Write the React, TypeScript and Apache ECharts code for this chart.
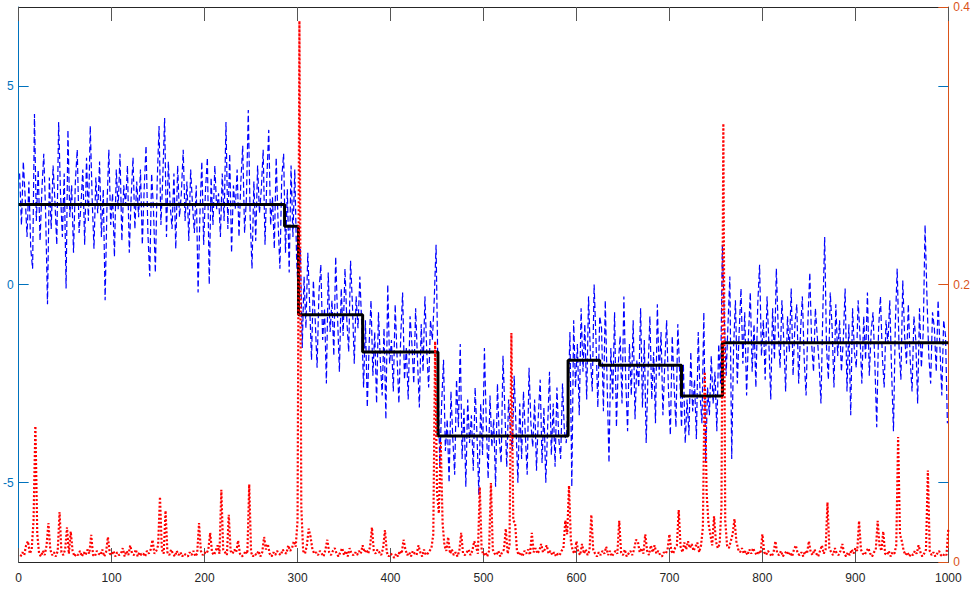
import React, { useEffect, useRef } from "react";
import * as echarts from "echarts";

// ---------- data ----------
// blue noisy signal, sampled at x = 1, 3, 5, ... , 999 (split by regime)
const blueA = [
  2.8, 1.5, 3.1, 2.2, 1.2, 2.6, 0.9, 0.4, 4.3, 1.6,
  2.9, 1.1, 2.4, 3.3, 1.8, -0.5, 2.7, 1.4, 3.0, 2.1,
  1.0, 4.1, 2.3, 1.2, 2.8, -0.1, 3.9, 1.7, 2.5, 0.8,
  2.6, 3.4, 1.3, 2.0, 2.9, 1.0, 3.2, 1.6, 4.0, 2.2,
  0.9, 2.7, 1.8, 3.1, 1.2, 2.4, -0.4, 2.0, 3.4, 1.5,
  2.3, 0.7, 2.9, 1.9, 3.3, 1.1, 2.5, 2.0, 3.0, 0.8,
  2.2, 3.2, 1.4, 2.6, 1.7, 2.9, 1.0, 2.4, 3.5, 1.3,
  0.2, 2.8, 1.9, 0.3, 2.6, 4.0, 1.5, 2.7, 4.2, 1.2,
  3.1, 2.0, 1.4, 2.8, 0.9, 3.0, 1.7, 2.3, 3.4, 1.6,
  2.6, 1.1, 2.9, 2.0, 1.3, 2.5, -0.2, 1.8, 3.1, 1.0,
  2.4, 3.2, 0.0, 2.7, 1.5, 3.0, 1.9, 2.3, 1.2, 2.8,
  1.6, 4.1, 1.4, 3.3, 0.8, 2.5, 1.9, 2.9, 1.2, 2.6,
  3.5, 1.3, 2.2, 4.4, 1.7, 0.4, 2.6, 1.1, 3.0, 1.8,
  2.4, 3.4, 1.0, 2.7, 3.9, 1.5, 2.2, 0.9, 3.2, 1.6,
  0.4, 2.7,
];
const blueB = [3.3, 0.8, 2.4, 0.3, 3.0, 1.2, 2.9, 0.6];
const blueC = [
  -0.3, 0.9, -1.6, 0.2, -1.1, 0.8, -0.5, -1.9, 0.1, -0.9,
  -2.1, -0.2, 0.5, -1.4, -0.6, -2.5, 0.3, -1.2, -0.4, -1.8,
  0.7, -0.8, -2.2, -0.1, -1.3, 0.4, -0.9, -1.7, 0.6, -0.5,
  -2.0, -0.3, -1.1, 0.2,
];
const blueD = [
  -1.0, -2.6, -0.9, -3.1, -1.5, -0.4, -2.3, -1.2, -3.0, -0.7,
  -1.9, -2.8, -1.1, -3.4, 0.0, -2.0, -1.4, -2.7, -0.5, -1.8,
  -3.0, -1.3, -0.2, -2.4, -1.6, -2.9, -0.8, -1.5, -2.5, -0.6,
  -1.9, -3.1, -1.0, -2.2, -0.3, -1.7, -2.6, -0.9, -1.4, -0.4,
  1.0,
];
const blueE = [
  -2.2, -4.6, -3.0, -1.9, -4.2, -3.4, -5.0, -2.7, -3.9, -4.8,
  -2.4, -3.6, -1.5, -4.4, -3.1, -5.1, -2.9, -4.0, -3.3, -4.7,
  -2.6, -3.8, -5.3, -3.0, -4.3, -1.6, -3.5, -4.9, -2.8, -4.1,
  -3.4, -5.1, -2.5, -3.9, -4.5, -1.8, -3.2, -4.6, -2.9, -3.7,
  -4.2, -2.3, -3.6, -5.0, -3.0, -4.4, -2.7, -3.8, -4.8, -2.1,
  -3.5, -4.1, -2.9, -4.7, -3.3, -2.4, -4.5, -3.1, -5.0, -3.6,
  -2.2, -4.3, -3.0, -4.6, -2.6, -3.9, -4.4, -2.5, -3.7, -4.0,
];
const blueF = [
  -3.0, -1.2, -5.1, -0.9, -2.6, -1.5, -3.3, -0.6, -2.2, -1.0,
  -2.9, -0.3, -1.8, -2.7, 0.0, -1.4, -3.1, -0.8,
];
const blueG = [
  -1.1, -3.2, -0.4, -2.5, -4.5, -1.6, -2.9, -0.7, -3.6, -2.0,
  -1.3, -3.0, -0.3, -2.4, -3.7, -1.5, -2.8, -0.9, -3.4, -1.9,
  -2.6, -0.6, -3.1, -1.4, -4.0, -2.2, -0.8, -2.9, -1.7, -3.5,
  -0.5, -2.3, -1.2, -3.3, -2.0, -0.9, -2.7, -3.8, -1.3, -2.5,
  -3.6, -1.0, -2.2,
];
const blueH = [
  -3.6, -2.0, -4.0, -2.9, -3.8, -1.7, -3.2, -2.4, -3.9, -1.2,
  -2.8, -3.5, -0.7, -4.5, -2.6, -3.3, -1.8, -3.0, -2.2, -3.7,
  -1.5, -2.5, 1.0,
];
const blueI = [
  -0.8, -2.3, -1.0, 0.2, -4.4, -1.6, -0.4, -2.5, -1.2, -0.1,
  -2.0, -0.7, -2.8, -1.3, -0.2, -2.2, -1.0, -2.6, -0.5, 0.5,
  -1.8, -0.9, -2.4, -0.3, -1.5, -2.9, -0.6, -1.9, 0.4, -1.1,
  -2.1, -0.4, -1.4, -2.7, -0.8, -1.7, -0.1, -2.3, -1.0, -0.5,
  -2.5, -1.2, -0.3, -1.9, -2.8, -0.9, 0.3, -1.5, -2.2, -0.6,
  -1.3, -2.0, -3.0, -0.7, 1.2, -1.6, -2.4, -0.2, -1.1, -2.6,
  -0.5, -1.8, -0.9, -2.2, -1.4, -0.1, -2.7, -1.0, -3.3, -0.6,
  -1.7, -2.1, -0.4, -1.3, -2.5, -0.8, -1.9, -0.2, -2.3, -1.2,
  -0.7, -2.0, -3.6, -1.1, -0.3, -1.8, -2.6, -0.9, -1.5, -0.4,
  -2.2, -3.7, -1.0, 0.4, -1.6, -2.4, 0.1, -1.3, -2.0, -0.5,
  -1.9, -2.7, -0.8, -1.4, -3.0, -0.6, -2.1, -1.2, 1.5, -0.3,
  -1.8, -2.5, -0.7, -1.1, -2.2, -0.4, -1.6, -2.8, -0.9, -1.3,
  -3.5,
];
const blueStart = 1;
const blueStep = 2;

// fitted piecewise-constant mean (black)
const stepEdges = [0, 286, 301, 370, 451, 591, 625, 713, 757, 1000];
const stepLevels = [2.02, 1.47, -0.76, -1.7, -3.82, -1.91, -2.04, -2.81, -1.47];

// red change-point probability (right axis), sampled at x = 2, 4, ... , 1000
const redProb = [
  0.004, 0.007, 0.005, 0.012, 0.015, 0.006, 0.009, 0.03, 0.098, 0.02,
  0.006, 0.004, 0.008, 0.005, 0.012, 0.028, 0.009, 0.005, 0.007, 0.004,
  0.008, 0.036, 0.007, 0.005, 0.009, 0.025, 0.006, 0.022, 0.008, 0.004,
  0.006, 0.005, 0.008, 0.004, 0.007, 0.005, 0.009, 0.006, 0.0195, 0.005,
  0.004, 0.008, 0.006, 0.005, 0.009, 0.004, 0.007, 0.018, 0.006, 0.005,
  0.008, 0.004, 0.007, 0.005, 0.006, 0.01, 0.004, 0.008, 0.005, 0.012,
  0.006, 0.005, 0.009, 0.004, 0.007, 0.005, 0.006, 0.004, 0.008, 0.006,
  0.009, 0.016, 0.006, 0.008, 0.012, 0.047, 0.009, 0.006, 0.037, 0.007,
  0.005, 0.009, 0.006, 0.004, 0.008, 0.005, 0.007, 0.004, 0.006, 0.005,
  0.004, 0.007, 0.005, 0.008, 0.004, 0.006, 0.028, 0.008, 0.005, 0.007,
  0.006, 0.009, 0.021, 0.007, 0.005, 0.008, 0.012, 0.006, 0.052, 0.009,
  0.007, 0.005, 0.034, 0.008, 0.006, 0.009, 0.007, 0.0155, 0.006, 0.004,
  0.005, 0.008, 0.006, 0.056, 0.007, 0.004, 0.006, 0.005, 0.008, 0.004,
  0.007, 0.018, 0.009, 0.013, 0.006, 0.004, 0.007, 0.005, 0.008, 0.006,
  0.005, 0.009, 0.007, 0.006, 0.012, 0.008, 0.01, 0.015, 0.011, 0.03,
  0.39, 0.04, 0.008, 0.006, 0.012, 0.024, 0.018, 0.009, 0.006, 0.007,
  0.005, 0.008, 0.006, 0.004, 0.009, 0.016, 0.007, 0.005, 0.008, 0.01,
  0.006, 0.004, 0.007, 0.01, 0.005, 0.008, 0.004, 0.01, 0.006, 0.005,
  0.007, 0.005, 0.008, 0.006, 0.012, 0.007, 0.009, 0.006, 0.011, 0.025,
  0.008, 0.006, 0.009, 0.007, 0.005, 0.01, 0.023, 0.007, 0.004, 0.006,
  0.005, 0.003, 0.006, 0.004, 0.008, 0.006, 0.016, 0.009, 0.005, 0.007,
  0.004, 0.008, 0.006, 0.005, 0.012, 0.007, 0.004, 0.009, 0.005, 0.006,
  0.008, 0.01, 0.02, 0.159, 0.05, 0.035, 0.087, 0.028, 0.012, 0.008,
  0.018, 0.006, 0.009, 0.005, 0.007, 0.004, 0.008, 0.021, 0.006, 0.005,
  0.007, 0.009, 0.005, 0.008, 0.015, 0.011, 0.006, 0.054, 0.009, 0.005,
  0.007, 0.004, 0.008, 0.057, 0.009, 0.006, 0.005, 0.008, 0.004, 0.007,
  0.009, 0.024, 0.006, 0.012, 0.165, 0.03, 0.028, 0.008, 0.005, 0.007,
  0.004, 0.008, 0.006, 0.009, 0.005, 0.021, 0.007, 0.01, 0.006, 0.008,
  0.013, 0.007, 0.009, 0.012, 0.006, 0.008, 0.005, 0.007, 0.004, 0.006,
  0.005, 0.008, 0.01, 0.03, 0.02, 0.055, 0.015, 0.008, 0.006, 0.015,
  0.007, 0.005, 0.013, 0.006, 0.009, 0.005, 0.008, 0.034, 0.009, 0.006,
  0.004, 0.007, 0.005, 0.008, 0.006, 0.011, 0.005, 0.008, 0.004, 0.006,
  0.008, 0.006, 0.0296, 0.007, 0.005, 0.009, 0.004, 0.006, 0.008, 0.005,
  0.009, 0.016, 0.015, 0.007, 0.01, 0.006, 0.02, 0.008, 0.005, 0.012,
  0.007, 0.012, 0.006, 0.008, 0.005, 0.004, 0.007, 0.006, 0.009, 0.02,
  0.008, 0.006, 0.01, 0.012, 0.0375, 0.011, 0.007, 0.014, 0.009, 0.015,
  0.01, 0.013, 0.008, 0.011, 0.014, 0.007, 0.012, 0.025, 0.137, 0.05,
  0.028, 0.02, 0.012, 0.033, 0.015, 0.01, 0.013, 0.04, 0.316, 0.03,
  0.012, 0.01, 0.015, 0.02, 0.031, 0.015, 0.009, 0.007, 0.01, 0.006,
  0.008, 0.005, 0.009, 0.006, 0.01, 0.007, 0.005, 0.008, 0.006, 0.02,
  0.007, 0.005, 0.008, 0.006, 0.004, 0.007, 0.015, 0.006, 0.005, 0.008,
  0.004, 0.006, 0.008, 0.005, 0.007, 0.004, 0.009, 0.012, 0.006, 0.005,
  0.007, 0.004, 0.008, 0.006, 0.015, 0.007, 0.005, 0.009, 0.006, 0.004,
  0.008, 0.012, 0.006, 0.009, 0.043, 0.01, 0.007, 0.005, 0.01, 0.006,
  0.005, 0.008, 0.013, 0.006, 0.004, 0.007, 0.005, 0.009, 0.006, 0.01,
  0.008, 0.0296, 0.009, 0.006, 0.005, 0.008, 0.01, 0.006, 0.004, 0.007,
  0.009, 0.0296, 0.012, 0.008, 0.022, 0.006, 0.005, 0.008, 0.004, 0.007,
  0.006, 0.012, 0.09, 0.02, 0.015, 0.008, 0.005, 0.007, 0.004, 0.006,
  0.005, 0.008, 0.006, 0.012, 0.007, 0.004, 0.006, 0.009, 0.066, 0.008,
  0.005, 0.007, 0.004, 0.006, 0.008, 0.005, 0.004, 0.006, 0.005, 0.024,
];
const redStart = 2;
const redStep = 2;

const xTicks = [0, 100, 200, 300, 400, 500, 600, 700, 800, 900, 1000];
const leftTicks = [-5, 0, 5];
const rightTicks = [0, 0.2, 0.4];

// ---------- colours ----------
const LEFT_COLOR = "#0072BD";
const RIGHT_COLOR = "#D95319";
const AXIS_GRAY = "#262626";
const FONT = "'Liberation Sans Narrow', 'Arial Narrow', 'Liberation Sans', Arial, sans-serif";

export default function App() {
  const ref = useRef<HTMLDivElement>(null);

  useEffect(() => {
    if (!ref.current) return;
    const chart = echarts.init(ref.current, undefined, { renderer: "svg" });

    const blueValues = [
      ...blueA, ...blueB, ...blueC, ...blueD, ...blueE,
      ...blueF, ...blueG, ...blueH, ...blueI,
    ];
    const blueData = blueValues.map((v, i) => [blueStart + i * blueStep, v]);
    const redData = redProb.map((v, i) => [redStart + i * redStep, v]);
    const stepData: number[][] = [];
    stepLevels.forEach((lvl, i) => {
      stepData.push([stepEdges[i], lvl]);
      stepData.push([stepEdges[i + 1], lvl]);
    });

    const xCommon = {
      type: "value",
      min: xTicks[0],
      max: xTicks[xTicks.length - 1],
      interval: 100,
      splitLine: { show: false },
    };

    chart.setOption({
      animation: false,
      backgroundColor: "#ffffff",
      grid: { left: 13, right: 23, top: 7, bottom: 29, containLabel: false },
      xAxis: [
        {
          ...xCommon,
          position: "bottom",
          axisLine: { show: true, onZero: false, lineStyle: { color: AXIS_GRAY, width: 1 } },
          axisTick: { show: true, inside: true, length: 14, lineStyle: { color: "#555555", width: 1 } },
          axisLabel: {
            color: AXIS_GRAY,
            fontSize: 12,
            margin: 10,
            fontFamily: FONT,
            formatter: (v: number) => String(v),
          },
        },
        {
          ...xCommon,
          position: "top",
          axisLine: { show: true, onZero: false, lineStyle: { color: AXIS_GRAY, width: 1 } },
          axisTick: { show: true, inside: true, length: 14, lineStyle: { color: "#555555", width: 1 } },
          axisLabel: { show: false },
        },
      ],
      yAxis: [
        {
          type: "value",
          position: "left",
          min: -7,
          max: 7,
          axisLine: { show: true, onZero: false, lineStyle: { color: LEFT_COLOR, width: 1 } },
          axisTick: {
            show: true,
            inside: true,
            length: 10,
            customValues: leftTicks,
            lineStyle: { color: LEFT_COLOR, width: 1 },
          },
          axisLabel: {
            show: true,
            customValues: leftTicks,
            color: LEFT_COLOR,
            fontSize: 12,
            margin: 5,
            fontFamily: FONT,
          },
          splitLine: { show: false },
        },
        {
          type: "value",
          position: "right",
          min: 0,
          max: 0.4,
          interval: 0.2,
          axisLine: { show: true, onZero: false, lineStyle: { color: RIGHT_COLOR, width: 1 } },
          axisTick: {
            show: true,
            inside: true,
            length: 10,
            customValues: rightTicks,
            lineStyle: { color: RIGHT_COLOR, width: 1 },
          },
          axisLabel: {
            show: true,
            customValues: rightTicks,
            color: RIGHT_COLOR,
            fontSize: 12,
            margin: 5,
            fontFamily: FONT,
          },
          splitLine: { show: false },
        },
        {
          type: "value",
          position: "right",
          min: -7,
          max: 7,
          axisLine: { show: false, onZero: false },
          axisTick: {
            show: true,
            inside: true,
            length: 10,
            customValues: [-5, 5],
            lineStyle: { color: LEFT_COLOR, width: 1 },
          },
          axisLabel: { show: false },
          splitLine: { show: false },
        },
      ],
      series: [
        {
          name: "signal",
          type: "line",
          xAxisIndex: 0,
          yAxisIndex: 0,
          data: blueData,
          showSymbol: false,
          symbol: "none",
          lineStyle: { color: "#0000FF", width: 1.2, type: [6, 3] },
          z: 2,
        },
        {
          name: "mean",
          type: "line",
          xAxisIndex: 0,
          yAxisIndex: 0,
          data: stepData,
          showSymbol: false,
          symbol: "none",
          lineStyle: { color: "#000000", width: 3 },
          z: 3,
        },
        {
          name: "probability",
          type: "line",
          xAxisIndex: 0,
          yAxisIndex: 1,
          data: redData,
          showSymbol: false,
          symbol: "none",
          lineStyle: { color: "#FF0000", width: 2.2, type: [2, 2] },
          z: 4,
        },
      ],
    });

    return () => chart.dispose();
  }, []);

  return (
    <div
      ref={ref}
      style={{ position: "fixed", left: 0, top: 0, width: 973, height: 591, background: "#fff" }}
    />
  );
}
